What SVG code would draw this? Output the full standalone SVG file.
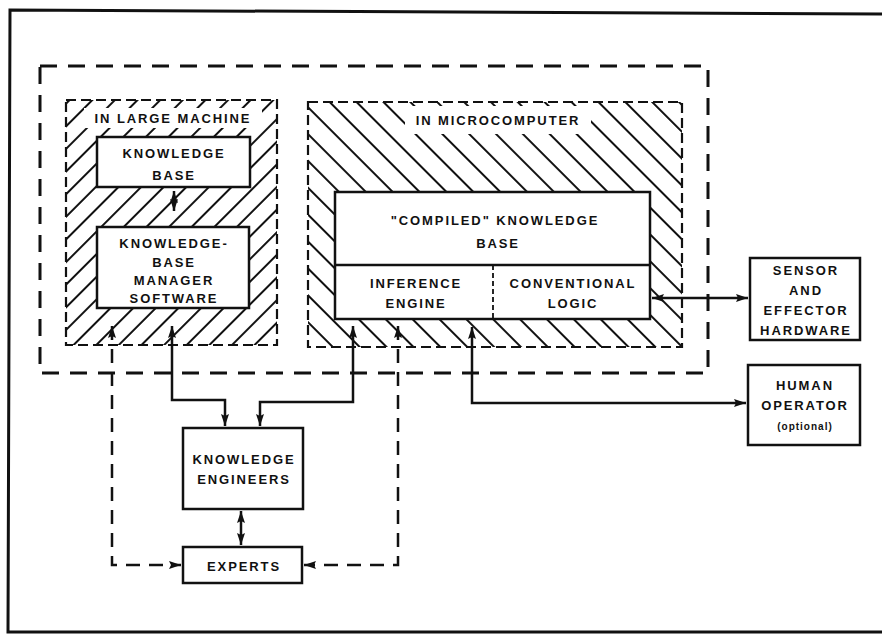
<svg xmlns="http://www.w3.org/2000/svg" width="882" height="642" viewBox="0 0 882 642">
<style>
.t{font-family:"Liberation Sans",Arial,sans-serif;font-weight:bold;font-size:13px;letter-spacing:1.9px;text-anchor:middle;fill:#111}
.box{fill:#fff;stroke:#111;stroke-width:2.5}
.frame{fill:none;stroke:#111;stroke-width:3}
.outer{fill:none;stroke:#111;stroke-width:3;stroke-dasharray:17 11}
.cont{stroke:#111;stroke-width:2.2;stroke-dasharray:10 5}
.sol{fill:none;stroke:#111;stroke-width:2.5}
.dsh{fill:none;stroke:#111;stroke-width:2.5;stroke-dasharray:14 9}
</style>
<defs>
<pattern id="hatchL" patternUnits="userSpaceOnUse" width="16" height="16" patternTransform="rotate(45)">
<line x1="8" y1="0" x2="8" y2="16" stroke="#111" stroke-width="2"/>
</pattern>
<pattern id="hatchR" patternUnits="userSpaceOnUse" width="19" height="19" patternTransform="rotate(-45)">
<line x1="9" y1="0" x2="9" y2="19" stroke="#111" stroke-width="2"/>
</pattern>
<marker id="ah" viewBox="0 0 12 8" refX="12" refY="4" markerWidth="12" markerHeight="8" markerUnits="userSpaceOnUse" orient="auto-start-reverse">
<path d="M0,0 L12,4 L0,8 L2,4 z" fill="#111"/>
</marker>
</defs>

<g id="frame">
<path class="frame" d="M882,14 L10,10 L8,632 L882,632"/>
</g>

<g id="outer-system">
<rect class="outer" x="40" y="66" width="668" height="307"/>
</g>

<g id="large-machine">
<rect class="cont" x="66" y="100" width="211" height="245" fill="url(#hatchL)"/>
<rect x="84" y="108" width="178" height="20" fill="#fff"/>
<text class="t" x="173" y="123">IN LARGE MACHINE</text>
</g>

<g id="microcomputer">
<rect class="cont" x="308" y="102" width="374" height="245" fill="url(#hatchR)"/>
<rect x="405" y="106" width="186" height="28" fill="#fff"/>
<text class="t" x="498" y="125">IN MICROCOMPUTER</text>
</g>

<g id="knowledge-base">
<rect class="box" x="97" y="137" width="153" height="50"/>
<text class="t" x="174" y="158">KNOWLEDGE</text>
<text class="t" x="174" y="180">BASE</text>
</g>

<g id="kb-manager">
<rect class="box" x="97" y="227" width="152" height="81"/>
<text class="t" x="174" y="248">KNOWLEDGE-</text>
<text class="t" x="174" y="267">BASE</text>
<text class="t" x="174" y="285">MANAGER</text>
<text class="t" x="174" y="303">SOFTWARE</text>
</g>

<g id="compiled-kb">
<rect class="box" x="335" y="192" width="315" height="127"/>
<line x1="335" y1="265" x2="650" y2="265" stroke="#111" stroke-width="2.5"/>
<line x1="493" y1="265" x2="493" y2="319" stroke="#111" stroke-width="1.8" stroke-dasharray="5 3"/>
<text class="t" x="495" y="225">"COMPILED" KNOWLEDGE</text>
<text class="t" x="498" y="248">BASE</text>
</g>

<g id="inference-engine">
<text class="t" x="416" y="288">INFERENCE</text>
<text class="t" x="416" y="308">ENGINE</text>
</g>

<g id="conventional-logic">
<text class="t" x="573" y="288">CONVENTIONAL</text>
<text class="t" x="573" y="308">LOGIC</text>
</g>

<g id="sensor">
<rect class="box" x="750" y="258" width="110" height="82"/>
<text class="t" x="806" y="275">SENSOR</text>
<text class="t" x="806" y="295">AND</text>
<text class="t" x="806" y="315">EFFECTOR</text>
<text class="t" x="806" y="335">HARDWARE</text>
</g>

<g id="human-operator">
<rect class="box" x="748" y="365" width="112" height="80"/>
<text class="t" x="805" y="390">HUMAN</text>
<text class="t" x="805" y="410">OPERATOR</text>
<text class="t" x="805" y="430" style="font-size:10px;letter-spacing:1px">(optional)</text>
</g>

<g id="knowledge-engineers">
<rect class="box" x="183" y="428" width="120" height="81"/>
<text class="t" x="244" y="464">KNOWLEDGE</text>
<text class="t" x="244" y="484">ENGINEERS</text>
</g>

<g id="experts">
<rect class="box" x="183" y="547" width="119" height="36"/>
<text class="t" x="244" y="571">EXPERTS</text>
</g>

<g id="connectors">
<path class="sol" d="M174,191 L174,211" marker-start="url(#ah)" marker-end="url(#ah)"/>
<path class="sol" d="M172,326 L172,400 L225,400 L225,426" marker-start="url(#ah)" marker-end="url(#ah)"/>
<path class="sol" d="M353,326 L353,402 L260,402 L260,426" marker-start="url(#ah)" marker-end="url(#ah)"/>
<path class="sol" d="M472,327 L472,403 L746,403" marker-start="url(#ah)" marker-end="url(#ah)"/>
<path class="sol" d="M652,298 L748,298" marker-start="url(#ah)" marker-end="url(#ah)"/>
<path class="sol" d="M241,511 L241,545" marker-start="url(#ah)" marker-end="url(#ah)"/>
<path class="dsh" d="M112,326 L112,565 L181,565" marker-start="url(#ah)" marker-end="url(#ah)"/>
<path class="dsh" d="M398,326 L398,565 L304,565" marker-start="url(#ah)" marker-end="url(#ah)"/>
</g>
</svg>
